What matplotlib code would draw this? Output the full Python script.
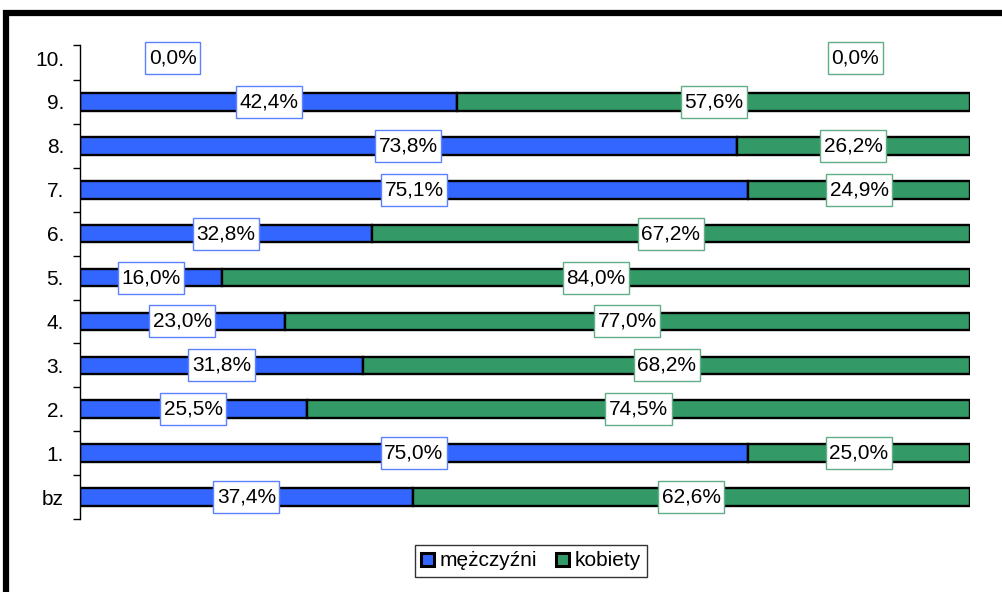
import matplotlib
matplotlib.use("Agg")
import matplotlib.pyplot as plt
from matplotlib.patches import Rectangle, Patch
from matplotlib.path import Path

plt.rcParams['font.family'] = ['Liberation Sans', 'DejaVu Sans']

categories = ["bz", "1.", "2.", "3.", "4.", "5.", "6.", "7.", "8.", "9.", "10."]
men = [37.4, 75.0, 25.5, 31.8, 23.0, 16.0, 32.8, 75.1, 73.8, 42.4, 0.0]
women = [62.6, 25.0, 74.5, 68.2, 77.0, 84.0, 67.2, 24.9, 26.2, 57.6, 0.0]
series_names = ["mężczyźni", "kobiety"]

BLUE = "#3366FF"
GREEN = "#339966"
BLUE_EDGE = "#5C80FF"
GREEN_EDGE = "#5FAE85"

W, H = 1002, 592
fig = plt.figure(figsize=(W / 100, H / 100), dpi=100)
ax = fig.add_axes([80 / W, 1 - 519 / H, 890 / W, (519 - 45) / H])


def label_box(x0, y0, width, height, mutation_size):
    px, py = 3.5, 6.5
    x0 -= px
    y0 -= py
    x1 = x0 + width + 2 * px
    y1 = y0 + height + 2 * py
    return Path([(x0, y0), (x1, y0), (x1, y1), (x0, y1), (x0, y0)],
                closed=True)


y = list(range(len(categories)))
men_ec = ["black" if v > 0 else "none" for v in men]
women_ec = ["black" if v > 0 else "none" for v in women]
ax.barh(y, men, height=0.40, color=BLUE, edgecolor=men_ec, linewidth=1.7, label=series_names[0])
ax.barh(y, women, left=men, height=0.40, color=GREEN, edgecolor=women_ec, linewidth=1.7, label=series_names[1])

fs = 15
for i, (m, w) in enumerate(zip(men, women)):
    if m == 0 and w == 0:
        xm, xw = 10.4, 87.1
    else:
        xm, xw = m / 2, m + w / 2
    ax.text(xm, i, f"{m:.1f}%".replace(".", ","), ha="center", va="center", fontsize=fs,
            bbox=dict(boxstyle=label_box, fc="white", ec=BLUE_EDGE, lw=1), zorder=5)
    ax.text(xw, i, f"{w:.1f}%".replace(".", ","), ha="center", va="center", fontsize=fs,
            bbox=dict(boxstyle=label_box, fc="white", ec=GREEN_EDGE, lw=1), zorder=5)

top = 9.5 + 35 / 43.9
ax.set_xlim(0, 100)
ax.set_ylim(-0.5, top)
ax.set_yticks(y)
ax.set_yticklabels(categories, fontsize=fs)
ax.set_yticks([k - 0.5 for k in range(len(categories))] + [top], minor=True)
ax.tick_params(axis="y", which="major", length=0, pad=11.5)
ax.tick_params(axis="y", which="minor", length=5, width=1, direction="out")
ax.set_xticks([])
for s in ["top", "right", "bottom"]:
    ax.spines[s].set_visible(False)
ax.spines["left"].set_linewidth(1)

handles = [Patch(facecolor=BLUE, edgecolor="black", linewidth=2.2),
           Patch(facecolor=GREEN, edgecolor="black", linewidth=2.2)]
leg = fig.legend(handles, series_names, loc="center", bbox_to_anchor=(531 / W, 1 - 561 / H),
                 ncol=2, fontsize=15, frameon=True, fancybox=False, edgecolor="black",
                 handlelength=0.6, handleheight=0.6, handletextpad=0.3, columnspacing=0.9,
                 borderpad=0.3, borderaxespad=0)
leg.get_frame().set_linewidth(1)

fig.patches.append(Rectangle((5.5 / W, -0.2), 1.2, 1.2 - 13 / H, transform=fig.transFigure,
                             fill=False, edgecolor="black", linewidth=4.5, clip_on=False))

fig.savefig("out.png", dpi=100)
